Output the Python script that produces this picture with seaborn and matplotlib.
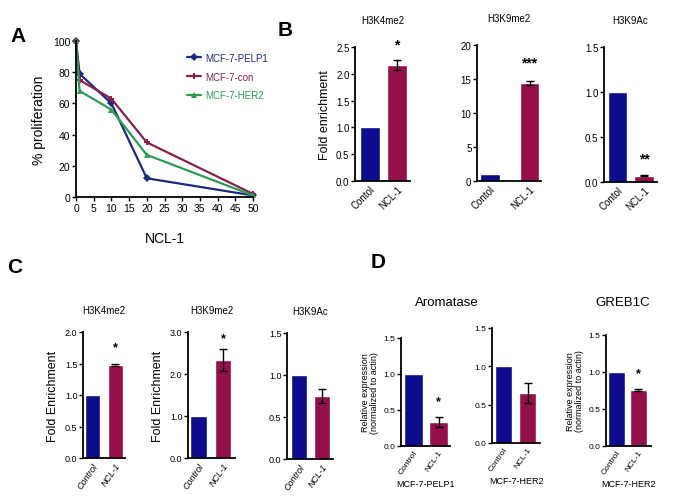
import matplotlib
matplotlib.use("Agg")
import matplotlib.pyplot as plt
import seaborn as sns
import pandas as pd
import numpy as np

sns.set_theme(style="ticks")
plt.rcParams['font.family'] = ['Liberation Sans', 'DejaVu Sans']
plt.rcParams['text.color'] = 'black'
plt.rcParams['axes.labelcolor'] = 'black'
plt.rcParams['xtick.color'] = 'black'
plt.rcParams['ytick.color'] = 'black'

W, H = 675, 502

# ---------------- data ----------------
doses = [0, 1, 10, 20, 50]
prolif_pelp1 = [100, 79, 60, 12, 1]
prolif_con = [100, 75, 63, 35, 2]
prolif_her2 = [100, 68, 56, 27, 1]
line_names = ["MCF-7-PELP1", "MCF-7-con", "MCF-7-HER2"]

groups_b = ["Contol", "NCL-1"]
groups_cd = ["Control", "NCL-1"]

b_titles = ["H3K4me2", "H3K9me2", "H3K9Ac"]
b_means = [[1.0, 2.17], [1.0, 14.4], [1.0, 0.07]]
b_errs = [[0.0, 0.09], [0.0, 0.25], [0.0, 0.005]]
b_stars = ["*", "***", "**"]
b_ymax = [2.5, 20, 1.5]
b_ticks = [[0, 0.5, 1.0, 1.5, 2.0, 2.5], [0, 5, 10, 15, 20], [0, 0.5, 1.0, 1.5]]

c_titles = ["H3K4me2", "H3K9me2", "H3K9Ac"]
c_means = [[1.0, 1.48], [1.0, 2.33], [1.0, 0.75]]
c_errs = [[0.0, 0.02], [0.0, 0.27], [0.0, 0.08]]
c_stars = ["*", "*", ""]
c_ymax = [2.0, 3.0, 1.5]
c_ticks = [[0, 0.5, 1.0, 1.5, 2.0], [0, 1.0, 2.0, 3.0], [0, 0.5, 1.0, 1.5]]

d_cells = ["MCF-7-PELP1", "MCF-7-HER2", "MCF-7-HER2"]
d_means = [[1.0, 0.33], [1.0, 0.65], [1.0, 0.76]]
d_errs = [[0.0, 0.07], [0.0, 0.13], [0.0, 0.01]]
d_stars = ["*", "", "*"]
d_ticks = [0, 0.5, 1.0, 1.5]

BLUE = "#0c0c8c"
MAROON = "#95104a"
line_colors = ["#1c2a7c", "#8a1f4e", "#2b9b55"]

fig = plt.figure(figsize=(W / 100, H / 100), dpi=100)


def ax_px(l, t, r, b):
    return fig.add_axes([l / W, 1 - b / H, (r - l) / W, (b - t) / H])


def style_ax(ax, fs):
    sns.despine(ax=ax)
    for s in ("left", "bottom"):
        ax.spines[s].set_linewidth(1.3)
        ax.spines[s].set_color("black")
    ax.tick_params(axis="both", length=3, width=1.0, labelsize=fs, pad=1,
                   colors="black")


def bar_panel(rect, groups, means, errs, star, star_y, ymax, ticks, width,
              xlim, title, fs_tick, fs_title, rot, italic, tpad, fs_star):
    ax = ax_px(*rect)
    df = pd.DataFrame({"group": groups, "value": means})
    sns.barplot(data=df, x="group", y="value", hue="group",
                palette=[BLUE, MAROON], width=width, ax=ax, legend=False,
                errorbar=None, saturation=1)
    ax.errorbar([1], [means[1]], yerr=[[errs[1]], [errs[1]]], fmt="none",
                ecolor="black", elinewidth=1.0, capsize=3, capthick=1.0)
    ax.set_ylim(0, ymax)
    ax.set_xlim(*xlim)
    ax.set_yticks(ticks)
    ax.set_yticklabels([("%g" % t) if ymax >= 5 else ("%.1f" % t) for t in ticks])
    ax.set_xlabel("")
    ax.set_ylabel("")
    style_ax(ax, fs_tick)
    ax.tick_params(axis="x", length=0, pad=2)
    ax.set_xticks([0, 1])
    ax.set_xticklabels(groups, rotation=rot, ha="right", rotation_mode="anchor",
                       fontstyle="italic" if italic else "normal")
    if star:
        ax.text(1, star_y, star, ha="center", va="center", fontsize=fs_star,
                fontweight="bold")
    if title:
        ax.set_title(title, fontsize=fs_title, pad=tpad)
    return ax


# ---------------- Panel A ----------------
axA = ax_px(76, 42, 253, 198)
dfA = pd.DataFrame({
    "dose": doses * 3,
    "prolif": prolif_pelp1 + prolif_con + prolif_her2,
    "line": [line_names[0]] * 5 + [line_names[1]] * 5 + [line_names[2]] * 5,
})
sns.lineplot(data=dfA, x="dose", y="prolif", hue="line", style="line",
             markers={line_names[0]: "D", line_names[1]: "P", line_names[2]: "^"},
             dashes=False, palette=line_colors, ax=axA, linewidth=1.6,
             markersize=4, markeredgewidth=0, clip_on=False)
axA.set_xlim(0, 50)
axA.set_ylim(0, 100)
axA.set_xticks(range(0, 51, 5))
axA.set_yticks(range(0, 101, 20))
style_ax(axA, 7.5)
axA.set_xlabel("NCL-1", fontsize=10, labelpad=13)
axA.set_ylabel("% proliferation", fontsize=10, labelpad=5)
leg = axA.legend(loc="upper left", bbox_to_anchor=(0.58, 0.98), frameon=False,
                 fontsize=7, handlelength=1.4, handletextpad=0.4, labelspacing=0.9)
for txt, c in zip(leg.get_texts(), line_colors):
    txt.set_color(c)
fig.text(18 / W, 1 - 36 / H, "A", fontsize=15, fontweight="bold", ha="center", va="center")

# ---------------- Panel B ----------------
b_rects = [(355, 48, 410, 182), (477, 46, 541, 182), (604, 48, 657, 183)]
b_width = [0.74, 0.5, 0.72]
b_xlim = [(-0.55, 1.48), (-0.33, 1.29), (-0.51, 1.49)]
b_stary = [2.55, 17.4, 0.26]
for i in range(3):
    ax = bar_panel(b_rects[i], groups_b, b_means[i], b_errs[i], b_stars[i],
                   b_stary[i], b_ymax[i], b_ticks[i], b_width[i], b_xlim[i],
                   b_titles[i], 7, 7, 45, False, 17, 10)
    if i == 0:
        ax.set_ylabel("Fold enrichment", fontsize=9, labelpad=4)
fig.text(285 / W, 1 - 31 / H, "B", fontsize=15, fontweight="bold", ha="center", va="center")

# ---------------- Panel C ----------------
c_rects = [(83, 333, 125, 459), (188, 333, 235, 459), (287, 334, 333, 460)]
c_width = [0.67, 0.7, 0.71]
c_xlim = [(-0.42, 1.44), (-0.45, 1.5), (-0.53, 1.5)]
c_stary = [1.76, 2.85, 0]
for i in range(3):
    ax = bar_panel(c_rects[i], groups_cd, c_means[i], c_errs[i], c_stars[i],
                   c_stary[i], c_ymax[i], c_ticks[i], c_width[i], c_xlim[i],
                   c_titles[i], 6.5, 7, 55, True, 14, 9)
    if i < 2:
        ax.set_ylabel("Fold Enrichment", fontsize=9, labelpad=4)
fig.text(15 / W, 1 - 268 / H, "C", fontsize=15, fontweight="bold", ha="center", va="center")

# ---------------- Panel D ----------------
d_rects = [(401, 339, 450, 447), (492, 329, 540, 444), (606, 336, 651, 447)]
d_width = [0.76, 0.7, 0.8]
d_xlim = [(-0.5, 1.46), (-0.48, 1.52), (-0.5, 1.6)]
d_stary = [0.62, 0, 0.98]
for i in range(3):
    ax = bar_panel(d_rects[i], groups_cd, d_means[i], d_errs[i], d_stars[i],
                   d_stary[i], 1.5, d_ticks, d_width[i], d_xlim[i],
                   None, 6, 7, 55, False, 0, 9)
    ax.set_xlabel(d_cells[i], fontsize=6.5, labelpad=3)
    if i != 1:
        ax.set_ylabel("Relative expression\n(normalized to actin)", fontsize=6.5,
                      labelpad=3, linespacing=1.0)
fig.text(447 / W, 1 - 303 / H, "Aromatase", fontsize=9.5, ha="center", va="center")
fig.text(623 / W, 1 - 303 / H, "GREB1C", fontsize=9.5, ha="center", va="center")
fig.text(378 / W, 1 - 262 / H, "D", fontsize=15, fontweight="bold", ha="center", va="center")

fig.savefig("out.png", dpi=100, facecolor="white")
